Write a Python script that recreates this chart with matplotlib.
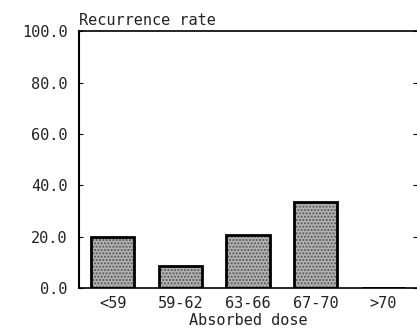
import matplotlib.pyplot as plt

categories = ['<59', '59-62', '63-66', '67-70', '>70']
recurrence = [20.0, 8.5, 20.7, 33.5, 0.0]
y_ticks = [0, 20, 40, 60, 80, 100]

plt.rcParams['font.family'] = 'DejaVu Sans Mono'

fig = plt.figure(figsize=(4.17, 3.35), dpi=100)
ax = fig.add_axes([0.189, 0.140, 0.811, 0.767])

x = range(len(categories))
# stippled fill first, then the black outline on top
ax.bar(x, recurrence, width=0.64, facecolor='#b2b2b2',
       edgecolor='#555555', linewidth=0, hatch='.....')
ax.bar(x, recurrence, width=0.64, fill=False,
       edgecolor='black', linewidth=2.0)

ax.set_xlim(-0.5, 4.5)
ax.set_ylim(0, 100)
ax.set_yticks(y_ticks)
ax.set_yticklabels(['%.1f' % v for v in y_ticks])
ax.set_xticks(list(x))
ax.set_xticklabels(categories)

ax.spines['right'].set_visible(False)
ax.spines['left'].set_linewidth(1.5)
ax.spines['bottom'].set_linewidth(1.2)
ax.spines['top'].set_linewidth(1.2)
ax.tick_params(axis='y', direction='in', length=3, right=True,
               labelsize=11, pad=8, colors='black', labelcolor='#222222')
ax.tick_params(axis='x', length=0, labelsize=11, pad=6, labelcolor='#222222')

ax.set_xlabel('Absorbed dose', fontsize=11, labelpad=1, color='#222222')
ax.text(0.0, 1.012, 'Recurrence rate', transform=ax.transAxes,
        fontsize=11, ha='left', va='bottom', color='#222222')

fig.savefig('out.png', dpi=100)
